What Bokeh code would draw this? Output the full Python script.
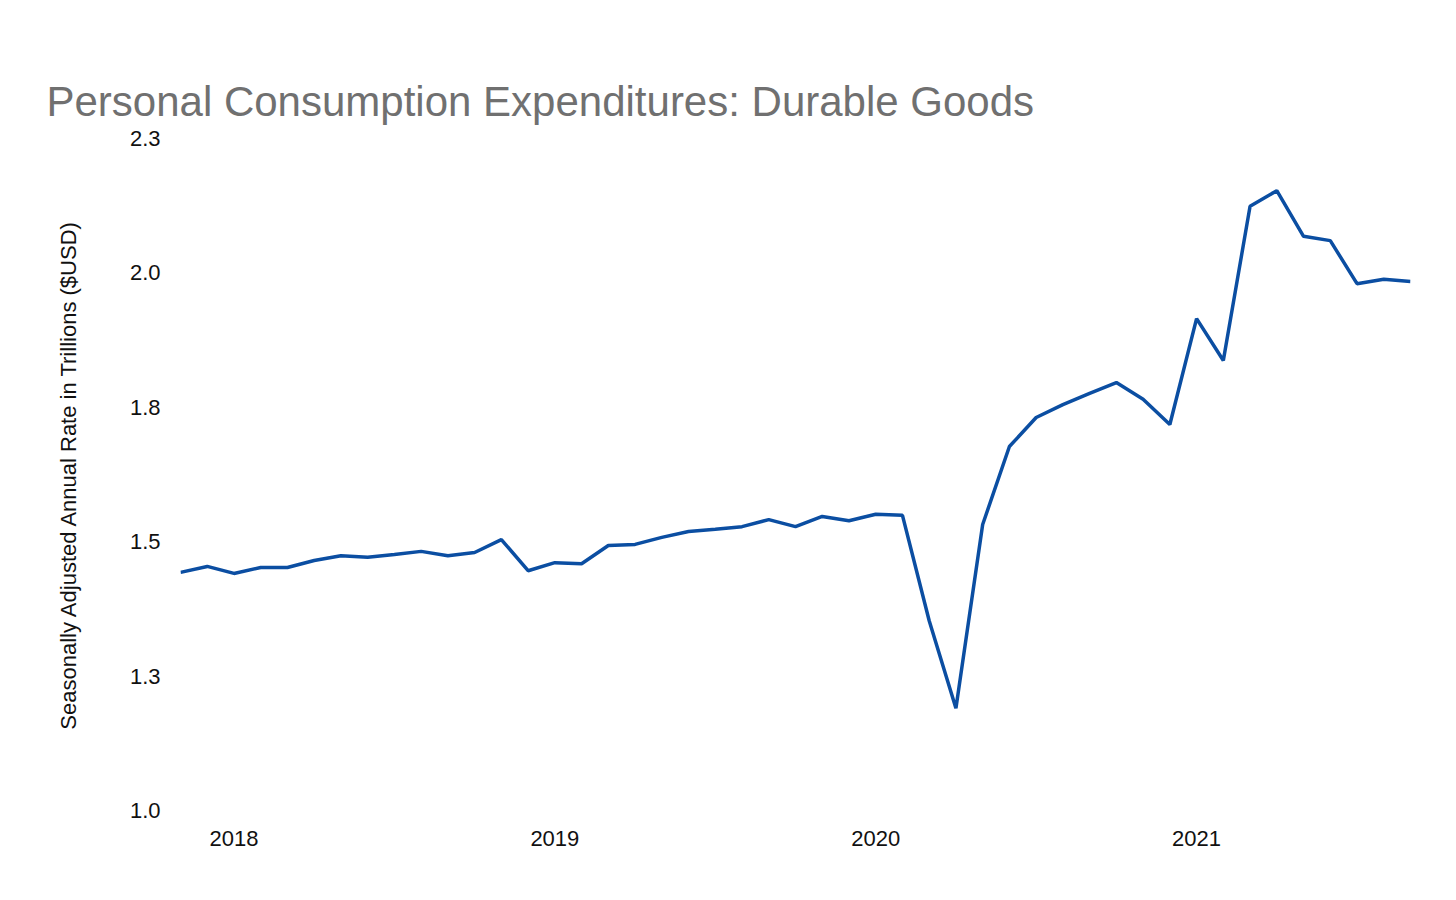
from bokeh.plotting import figure
from bokeh.models import Range1d, FixedTicker
from bokeh.embed import file_html
from bokeh.resources import INLINE

months = ["2017-11","2017-12"] + [f"{y}-{m:02d}" for y in (2018,2019,2020) for m in range(1,13)] + [f"2021-{m:02d}" for m in range(1,10)]
values = [1.443,1.454,1.441,1.452,1.452,1.465,1.474,1.471,1.476,1.482,1.474,1.480,1.504,1.446,
          1.461,1.459,1.493,1.495,1.508,1.519,1.523,1.528,1.541,1.528,1.547,1.539,
          1.551,1.549,1.353,1.190,1.532,1.677,1.731,1.755,1.776,1.796,1.765,1.718,
          1.915,1.837,2.124,2.153,2.068,2.060,1.980,1.988,1.984]
y_ticks = [1.0,1.25,1.5,1.75,2.0,2.25]
y_tick_labels = ["1.0","1.3","1.5","1.8","2.0","2.3"]
year_labels = ["2018","2019","2020","2021"]

def idx(s):
    y, m = s.split("-")
    return (int(y)-2017)*12 + int(m) - 11
x = [idx(s) for s in months]
year_pos = [idx(f"{y}-01") for y in year_labels]

FONT = "Liberation Sans"
p = figure(width=1440, height=884, output_backend="svg", toolbar_location=None,
           x_range=Range1d(x[0], x[-1]), y_range=Range1d(1.0, 2.25),
           min_border_left=180, min_border_right=30, min_border_top=138, min_border_bottom=74,
           title="Personal Consumption Expenditures: Durable Goods")
p.title.text_font = FONT
p.title.text_font_size = "42px"
p.title.text_font_style = "normal"
p.title.text_color = "#707070"
p.title.offset = -134
p.title.standoff = 28
p.outline_line_color = None
p.grid.grid_line_color = None
p.line(x, values, line_color="#0b4ea2", line_width=3.5)

p.xaxis.ticker = FixedTicker(ticks=year_pos)
p.xaxis.major_label_overrides = {pv: l for pv, l in zip(year_pos, year_labels)}
p.yaxis.ticker = FixedTicker(ticks=y_ticks)
p.yaxis.major_label_overrides = {t: l for t, l in zip(y_ticks, y_tick_labels)}
p.yaxis.axis_label = "Seasonally Adjusted Annual Rate in Trillions ($USD)"
for ax in (p.xaxis[0], p.yaxis[0]):
    ax.axis_line_color = None
    ax.major_tick_line_color = None
    ax.minor_tick_line_color = None
    ax.major_label_text_font = FONT
    ax.major_label_text_font_size = "22px"
    ax.major_label_text_color = "#111111"
    ax.major_label_standoff = 14
p.yaxis.axis_label_text_font = FONT
p.yaxis.axis_label_text_font_size = "22px"
p.yaxis.axis_label_text_font_style = "normal"
p.yaxis.axis_label_text_color = "#111111"
p.yaxis.axis_label_standoff = 46

open("out.html", "w").write(file_html(p, INLINE))
